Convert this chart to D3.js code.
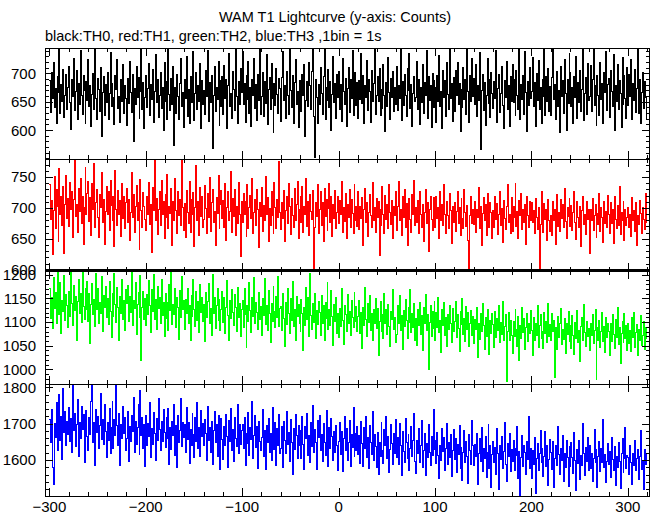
<!DOCTYPE html>
<html><head><meta charset="utf-8">
<script src="https://cdn.jsdelivr.net/npm/d3@7"></script>
<style>body{margin:0;background:#fff}svg{display:block}text{font-family:"Liberation Sans",Arial,Helvetica,sans-serif;fill:#000}</style>
</head><body><div id="chart"></div>
<script>
const title = "WAM T1 Lightcurve (y-axis: Counts)";
const subtitle = "black:TH0, red:TH1, green:TH2, blue:TH3 ,1bin = 1s";
const tStart = -300; // first bin (s), 1 s per bin
const xTicks = [-300,-200,-100,0,100,200,300];
const seriesNames = ["TH0","TH1","TH2","TH3"];
const seriesColors = ["#000000","#ff0000","#00ff00","#0000ff"];
const yDomains = [[549,745],[598,779],[969,1208],[1501,1809]];
const yMajorTicks = [[600,650,700],[600,650,700,750],[1000,1050,1100,1150,1200],[1600,1700,1800]];
const yMinorSteps = [10,10,10,20];

const th0 = [
688,631,702,655,719,640,673,612,694,667,745,629,681,650,707,622,661,699,636,676,
713,648,601,690,659,727,634,668,705,619,683,646,740,662,628,697,670,611,686,653,
724,641,679,606,663,700,637,748,656,619,691,672,633,710,588,667,695,625,681,649,
702,618,665,737,642,683,657,610,696,671,724,639,660,614,689,651,716,630,678,655,
609,692,647,721,666,631,699,580,674,645,712,658,693,621,668,742,636,684,602,657,
696,640,673,717,625,681,654,707,613,669,733,648,690,623,662,701,638,676,599,720,
651,686,619,744,663,634,691,646,712,572,675,629,698,660,618,683,727,642,667,605,
689,656,730,624,672,611,695,648,681,739,617,664,701,637,679,651,718,603,688,645,
670,627,706,660,741,615,684,649,697,568,662,712,633,676,654,722,608,687,641,694,
628,714,655,690,603,678,736,642,665,620,703,671,634,749,659,612,685,646,709,667,
738,645,682,613,697,654,721,630,675,606,690,661,726,638,680,617,699,652,745,627,
660,701,624,685,647,734,610,671,693,636,717,655,596,682,644,708,663,629,691,674,
615,693,739,652,678,621,703,661,628,744,670,640,697,611,684,725,646,669,604,687,
673,632,698,662,715,589,652,686,641,720,678,636,704,747,624,552,690,658,612,681,
646,711,664,627,695,742,618,675,653,707,640,686,600,663,730,649,682,621,699,658,
703,637,680,615,726,668,645,692,606,674,711,631,689,655,740,626,667,702,643,684,
621,688,654,736,647,697,612,679,658,723,634,690,669,614,705,651,683,745,628,662,
694,650,708,626,672,639,715,661,597,684,642,729,666,619,691,657,703,633,676,646,
712,634,679,655,747,617,686,644,699,662,624,708,670,735,638,681,607,665,694,651,
658,721,636,690,610,675,649,716,629,684,662,741,620,695,653,678,604,700,640,687,
675,613,697,650,731,641,668,603,706,657,688,624,719,663,637,745,655,682,616,693,
632,705,661,720,645,683,598,672,640,711,654,690,628,744,669,614,696,650,727,660,
691,646,716,624,679,653,737,566,670,698,635,684,609,661,726,647,689,622,701,665,
638,686,655,741,613,674,699,631,665,712,644,603,688,657,722,636,678,606,694,651,
716,649,690,625,706,661,636,742,618,681,654,697,628,739,667,598,686,643,711,655,
669,728,641,684,607,700,652,723,637,675,612,689,660,744,626,694,651,708,633,677,
626,693,745,654,681,619,703,642,670,596,713,659,687,630,724,664,600,690,647,735,
702,641,676,611,695,658,730,620,684,649,706,633,671,742,617,664,693,628,718,652,
659,714,632,689,746,643,678,609,697,661,625,720,654,683,612,701,667,739,635,680,
692,622,706,668,641,733,600,679,650,715,637,687,664,604,728,645,696,656,621,710,
643,698,660,725,618,683,652,707,631,674,745,629,690,611,666,702,639,685,657,620];

const th1 = [
738,681,712,624,695,750,667,729,702,645,763,690,718,672,734,626,706,753,683,715,
670,741,698,727,652,713,779,686,706,660,732,694,748,675,719,641,700,765,689,724,
742,678,716,655,739,697,771,669,708,730,684,652,722,701,757,676,713,641,694,735,
689,726,663,745,704,680,718,637,761,697,671,728,690,712,654,740,683,719,666,708,
731,676,713,648,692,757,684,722,661,703,736,679,709,633,746,695,668,725,702,681,
664,719,690,741,673,706,628,733,696,776,680,715,657,698,727,671,744,689,710,651,
722,684,754,667,703,691,731,640,711,680,748,695,659,726,688,713,672,779,700,663,
707,652,728,693,675,742,661,714,690,725,637,701,768,679,710,655,733,686,718,669,
681,736,699,658,723,684,749,662,708,730,676,694,640,717,691,753,667,705,728,683,
712,668,739,647,701,726,679,694,758,661,715,686,730,655,703,674,741,690,622,710,
676,724,689,711,653,737,666,700,720,683,748,658,692,714,671,729,697,636,709,686,
733,662,704,679,750,690,717,645,699,672,726,688,659,741,701,667,713,684,775,692,
665,709,683,728,646,696,719,674,739,703,657,715,687,668,731,679,706,742,651,698,
718,676,734,661,703,689,747,670,711,655,722,694,681,728,599,668,709,686,737,659,
697,726,672,708,645,731,686,714,663,699,740,677,718,654,706,683,728,666,692,719,
674,712,689,742,661,700,678,723,651,706,685,730,668,714,691,659,737,680,703,670,
726,665,703,683,717,640,698,731,676,709,654,693,722,688,669,741,679,700,661,715,
684,711,623,697,672,734,690,658,720,681,705,666,738,693,673,712,650,702,687,726,
663,703,742,679,697,656,718,685,730,668,707,640,693,715,682,660,722,689,744,671,
701,676,712,659,726,689,668,705,645,692,730,674,709,630,697,718,681,663,716,690,
668,719,683,700,651,727,679,706,672,738,690,658,711,687,666,724,695,642,703,677,
709,662,694,726,674,701,656,715,683,666,729,692,670,704,648,601,688,719,675,697,
673,711,660,698,685,733,667,702,640,691,717,679,705,655,724,686,668,708,693,650,
696,668,719,681,707,657,690,727,672,699,644,712,683,665,703,737,676,690,659,716,
662,702,684,739,670,694,651,712,688,724,665,698,677,706,641,718,687,669,710,680,
709,676,695,658,715,684,665,701,602,673,727,690,661,707,681,697,648,713,679,662,
688,655,711,680,698,641,721,670,693,662,714,683,705,668,732,678,650,700,686,715,
670,704,663,692,726,677,649,710,684,669,702,638,695,718,673,689,657,711,681,697,
626,697,679,715,663,688,706,652,691,673,723,662,700,685,644,711,674,694,668,720,
689,659,708,675,697,642,719,681,666,704,672,735,657,692,680,710,647,698,671,684,
701,668,690,653,717,679,696,662,708,640,687,673,712,691,658,701,682,665,724,676];

const th2 = [
1172,1108,1151,1086,1195,1129,1163,1097,1208,1140,1117,1183,1075,1146,1122,1199,1104,1158,1136,1089,
1165,1111,1207,1139,1092,1178,1125,1154,1061,1143,1190,1118,1160,1099,1210,1133,1106,1171,1127,1186,
1102,1160,1054,1137,1182,1115,1148,1090,1203,1126,1170,1097,1141,1119,1196,1081,1157,1131,1176,1109,
1150,1094,1185,1123,1067,1161,1112,1202,1137,1099,1174,1130,1060,1155,1118,1191,1106,1145,1083,1169,
1139,1178,1101,1154,1121,1207,1093,1146,1128,1183,1074,1137,1162,1110,1198,1019,1131,1165,1105,1149,
1093,1159,1116,1187,1136,1078,1168,1122,1201,1105,1147,1084,1175,1128,1153,1097,1190,1113,1141,1069,
1161,1107,1142,1082,1179,1124,1205,1095,1138,1116,1171,1088,1152,1131,1064,1167,1109,1196,1126,1145,
1084,1148,1119,1171,1098,1136,1060,1157,1112,1189,1127,1090,1165,1104,1143,1077,1180,1121,1153,1101,
1137,1058,1162,1109,1143,1181,1096,1129,1072,1201,1118,1151,1087,1134,1170,1103,1148,1082,1126,1164,
1099,1152,1075,1131,1187,1114,1062,1145,1107,1168,1121,1093,1158,1130,1081,1174,1109,1140,1069,1126,
1145,1089,1170,1117,1046,1136,1102,1183,1125,1078,1153,1111,1194,1097,1141,1120,1084,1162,1106,1133,
1071,1150,1113,1192,1095,1134,1083,1166,1118,1057,1139,1101,1175,1122,1088,1154,1109,1197,1091,1128,
1132,1083,1160,1107,1048,1141,1095,1170,1118,1076,1149,1104,1186,1090,1127,1061,1155,1112,1137,1098,
1079,1147,1118,1039,1131,1092,1173,1106,1151,1070,1203,1114,1085,1139,1099,1160,1066,1124,1095,1143,
1121,1072,1156,1097,1134,1061,1142,1108,1184,1085,1127,1093,1166,1112,1050,1138,1101,1152,1076,1119,
1067,1129,1091,1171,1104,1052,1136,1115,1080,1158,1097,1123,1072,1145,1109,1088,1163,1101,1133,1079,
1111,1146,1076,1120,1044,1131,1093,1174,1105,1069,1139,1099,1157,1083,1118,1062,1127,1096,1149,1087,
1128,1030,1102,1143,1081,1117,1065,1161,1098,1126,1074,1137,1091,1049,1122,1105,1168,1084,1110,1056,
1073,1135,1097,1156,1082,1113,1043,1124,1090,1147,1104,1066,1131,1099,1168,1077,1118,1088,1140,1060,
1108,1051,1126,1092,1142,1074,1113,1039,1131,1096,1158,1082,1117,1000,1099,1136,1070,1123,1086,1144,
1062,1120,1089,1152,1077,1104,1035,1127,1093,1141,1071,1110,1048,1117,1084,1136,1097,1057,1129,1081,
1101,1143,1068,1115,1087,1038,1122,1094,1150,1074,1108,1059,1133,1085,1121,1049,1098,1125,1071,1112,
1054,1106,1085,1131,1024,1097,1063,1119,1079,1140,1092,1041,1110,1070,1126,1087,1031,1103,1076,1118,
1095,1047,1123,1068,1107,1082,1136,1056,1099,1074,1143,1062,1090,1115,974,1081,1120,1060,1104,1072,
1034,1101,1070,1126,1084,1049,1112,1019,1093,1066,1131,1078,1107,1043,1088,1119,1058,1097,1075,1125,
1083,1029,1109,1061,1098,1072,1135,1047,1092,1115,1065,1081,1044,1120,1076,1102,1056,1140,1069,1094,
1060,1118,1079,1104,982,1088,1041,1111,1067,1096,1128,1052,1085,1063,1107,1033,1098,1074,1122,1058,
1092,1045,1113,1071,1031,1099,1066,1124,1057,1082,1016,1090,1110,1061,1137,1077,1048,1101,1069,1087,
1039,1096,1072,1115,1054,1083,1127,978,1088,1062,1104,1046,1079,1121,1058,1091,1035,1109,1068,1098,
1081,1029,1098,1059,1116,1073,1044,1105,1067,1131,1052,1089,1012,1076,1101,1057,1119,1066,1093,1040,
1097,1055,1083,1038,1109,1068,1120,1047,1077,1094,1030,1085,1061,1113,1050,1072,1102,1043,1089,1066];

const th3 = [
1712,1648,1739,1580,1532,1701,1663,1758,1627,1694,1781,1655,1720,1602,1798,1676,1733,1641,1706,1669,
1745,1652,1714,1621,1812,1680,1729,1638,1697,1766,1611,1702,1659,1748,1684,1725,1593,1691,1737,1664,
1626,1718,1671,1760,1808,1649,1702,1586,1739,1676,1721,1633,1695,1782,1657,1711,1644,1753,1679,1608,
1703,1654,1741,1617,1689,1760,1632,1712,1668,1809,1694,1641,1727,1585,1699,1658,1746,1673,1716,1627,
1660,1734,1596,1692,1651,1723,1679,1771,1620,1705,1643,1690,1752,1614,1790,1668,1717,1631,1697,1582,
1722,1639,1701,1664,1758,1607,1686,1644,1731,1672,1598,1713,1655,1769,1683,1626,1707,1650,1740,1677,
1634,1718,1659,1742,1587,1690,1628,1705,1667,1754,1613,1696,1579,1723,1648,1680,1768,1637,1702,1662,
1697,1621,1744,1656,1703,1590,1684,1639,1727,1671,1608,1716,1652,1759,1632,1689,1610,1735,1664,1701,
1640,1711,1672,1599,1748,1653,1689,1620,1706,1589,1681,1734,1647,1698,1611,1723,1668,1575,1714,1657,
1602,1693,1639,1726,1664,1580,1709,1651,1743,1626,1684,1595,1718,1660,1637,1752,1618,1697,1643,1681,
1698,1631,1717,1586,1674,1645,1731,1613,1689,1656,1762,1604,1668,1722,1635,1691,1578,1706,1650,1627,
1663,1738,1609,1681,1575,1694,1648,1715,1622,1672,1599,1745,1657,1630,1703,1584,1686,1641,1724,1618,
1631,1692,1580,1706,1655,1617,1734,1644,1677,1596,1712,1649,1560,1687,1628,1726,1667,1603,1695,1641,
1680,1605,1719,1642,1573,1691,1658,1729,1612,1667,1594,1703,1636,1751,1621,1684,1647,1573,1708,1662,
1722,1626,1669,1596,1700,1648,1612,1737,1655,1583,1689,1631,1715,1664,1599,1678,1621,1694,1640,1570,
1651,1703,1615,1678,1569,1660,1721,1627,1686,1598,1647,1710,1581,1669,1634,1744,1611,1673,1626,1692,
1614,1668,1590,1707,1645,1583,1689,1632,1721,1606,1662,1578,1694,1648,1616,1733,1599,1670,1637,1580,
1676,1560,1649,1611,1702,1627,1590,1683,1641,1719,1603,1665,1567,1628,1697,1645,1589,1674,1619,1712,
1608,1662,1587,1701,1639,1558,1678,1624,1593,1715,1647,1604,1669,1572,1633,1691,1611,1655,1727,1596,
1563,1653,1618,1688,1594,1641,1709,1580,1627,1672,1557,1645,1606,1698,1621,1586,1664,1612,1738,1630,
1654,1591,1676,1612,1549,1640,1598,1687,1623,1662,1572,1633,1701,1589,1648,1607,1669,1556,1625,1685,
1602,1659,1566,1643,1614,1696,1578,1635,1544,1620,1681,1593,1650,1609,1536,1671,1627,1587,1710,1639,
1585,1644,1610,1672,1533,1617,1658,1596,1689,1569,1631,1603,1664,1551,1622,1697,1577,1640,1525,1615,
1651,1594,1634,1560,1686,1618,1519,1639,1601,1665,1578,1623,1704,1589,1540,1646,1610,1674,1568,1628,
1596,1655,1572,1631,1613,1691,1548,1624,1498,1606,1667,1583,1640,1620,1559,1650,1601,1721,1577,1633,
1549,1626,1588,1663,1507,1604,1646,1571,1619,1682,1592,1631,1554,1610,1678,1583,1640,1530,1601,1657,
1622,1574,1650,1524,1603,1641,1585,1693,1614,1560,1632,1599,1668,1542,1617,1580,1654,1607,1528,1637,
1583,1647,1606,1564,1675,1599,1517,1628,1590,1653,1546,1612,1585,1700,1619,1558,1635,1597,1662,1572,
1640,1577,1619,1541,1603,1683,1594,1628,1524,1610,1652,1569,1631,1592,1712,1580,1616,1537,1597,1645,
1588,1624,1553,1661,1601,1572,1636,1529,1609,1580,1648,1595,1522,1619,1660,1567,1604,1690,1576,1613,
1606,1560,1641,1594,1532,1617,1584,1655,1570,1603,1629,1546,1611,1681,1575,1598,1520,1630,1587,1619];

const seriesValues = [th0, th1, th2, th3];

// ---- layout ----
const W = 652, H = 515;
const L = 45, R = 650;
const panelTop = [48, 159, 271, 384];
const panelBot = [159, 271, 384, 496];

const svg = d3.select("#chart").append("svg").attr("width", W).attr("height", H);

const x = d3.scaleLinear().domain([-304.5, 323]).range([L, R]);

svg.append("text").attr("x", 335).attr("y", 22).attr("text-anchor", "middle")
  .style("font-size", "14.5px").text(title);
svg.append("text").attr("x", 45).attr("y", 41).attr("text-anchor", "start")
  .style("font-size", "14.5px").text(subtitle);

const defs = svg.append("defs");

seriesValues.forEach((vals, i) => {
  const y = d3.scaleLinear().domain(yDomains[i]).range([panelBot[i], panelTop[i]]);
  const g = svg.append("g");
  defs.append("clipPath").attr("id", "clip" + i).append("rect")
    .attr("x", L).attr("y", panelTop[i]).attr("width", R - L).attr("height", panelBot[i] - panelTop[i]);

  const pts = vals.map((v, k) => [tStart + k, v]);
  pts.push([tStart + vals.length, vals[vals.length - 1]]);
  const line = d3.line().x(d => x(d[0])).y(d => y(d[1])).curve(d3.curveStepAfter);
  g.append("path").attr("d", line(pts)).attr("fill", "none")
    .attr("stroke", seriesColors[i]).attr("stroke-width", 1)
    .attr("shape-rendering", "crispEdges")
    .attr("clip-path", "url(#clip" + i + ")");

  // frame
  g.append("rect").attr("x", L + 0.5).attr("y", panelTop[i] + 0.5)
    .attr("width", R - L - 1).attr("height", panelBot[i] - panelTop[i])
    .attr("fill", "none").attr("stroke", "#000").attr("stroke-width", 1)
    .attr("shape-rendering", "crispEdges");

  // x ticks (top and bottom, inward)
  const xMinor = d3.range(-300, 321, 20);
  xMinor.forEach(t => {
    const major = t % 100 === 0;
    const len = major ? 8 : 4;
    const xp = Math.round(x(t)) + 0.5;
    g.append("line").attr("x1", xp).attr("x2", xp).attr("y1", panelBot[i]).attr("y2", panelBot[i] - len)
      .attr("stroke", "#000").attr("shape-rendering", "crispEdges");
    g.append("line").attr("x1", xp).attr("x2", xp).attr("y1", panelTop[i]).attr("y2", panelTop[i] + len)
      .attr("stroke", "#000").attr("shape-rendering", "crispEdges");
  });

  // y ticks (left and right, inward)
  const step = yMinorSteps[i];
  const yMinor = d3.range(Math.ceil(yDomains[i][0] / step) * step, yDomains[i][1] + 0.001, step);
  yMinor.forEach(v => {
    const major = yMajorTicks[i].includes(v);
    const len = major ? 8 : 4;
    const yp = Math.round(y(v)) + 0.5;
    g.append("line").attr("x1", L).attr("x2", L + len).attr("y1", yp).attr("y2", yp)
      .attr("stroke", "#000").attr("shape-rendering", "crispEdges");
    g.append("line").attr("x1", R).attr("x2", R - len).attr("y1", yp).attr("y2", yp)
      .attr("stroke", "#000").attr("shape-rendering", "crispEdges");
  });

  yMajorTicks[i].forEach(v => {
    g.append("text").attr("x", 36).attr("y", y(v)).attr("dy", "0.36em")
      .attr("text-anchor", "end").style("font-size", "15px").text(v);
  });
});

// thick separator between TH1 and TH2 panels
svg.append("rect").attr("x", L).attr("y", 269).attr("width", R - L).attr("height", 3).attr("fill", "#000");

const fmt = d3.format("d");
xTicks.forEach(t => {
  svg.append("text").attr("x", x(t)).attr("y", 512).attr("text-anchor", "middle")
    .style("font-size", "15px").text(fmt(t));
});
</script></body></html>
